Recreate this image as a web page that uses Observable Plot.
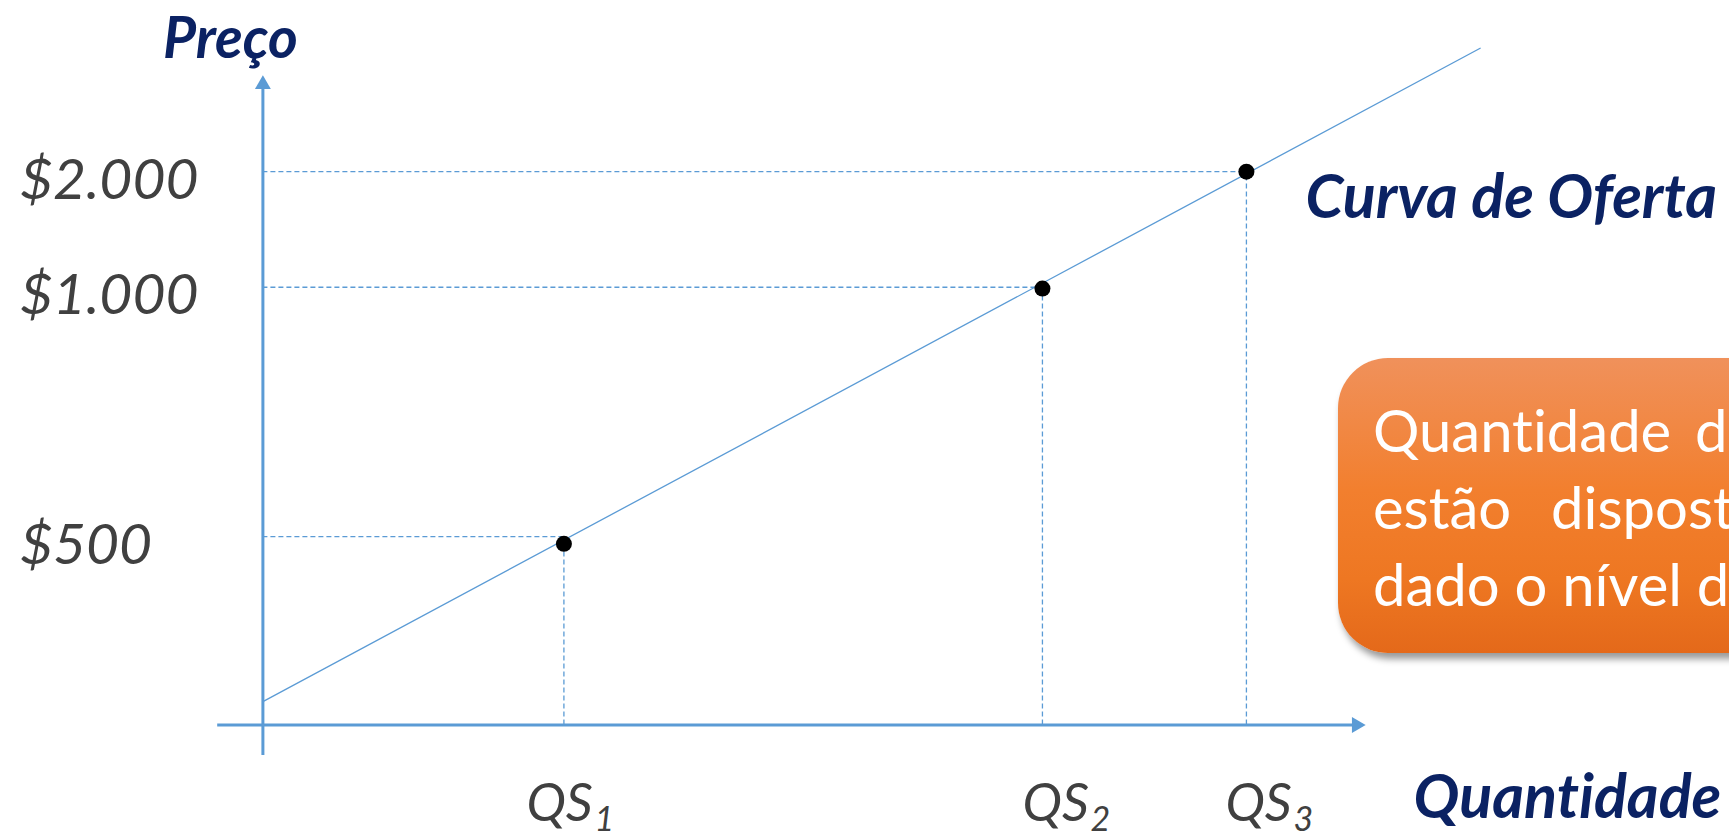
<!DOCTYPE html>
<html>
<head>
<meta charset="utf-8">
<script src="https://cdn.jsdelivr.net/npm/d3@7"></script>
<script src="https://cdn.jsdelivr.net/npm/@observablehq/plot@0.6"></script>
<style>
  html, body { margin: 0; padding: 0; background: #ffffff; overflow: hidden; }
  body { width: 1729px; height: 840px; position: relative; }
  #chart { position: absolute; left: 0; top: 0; }
  svg text { font-variant-ligatures: none; }
  #note {
    position: absolute; left: 1338px; top: 358px; width: 620px; height: 295px;
    border-radius: 50px;
    background: linear-gradient(180deg, #F0915B 0%, #F27F2E 45%, #EE7722 75%, #E4691A 100%);
    box-shadow: 3px 6px 7px rgba(0,0,0,0.40);
    font-family: Lato, "Open Sans", sans-serif; color: #ffffff; font-size: 58px;
    font-variant-ligatures: none;
    box-sizing: border-box; padding: 33px 0 0 35px; line-height: 77px; white-space: nowrap;
  }
  #note .l1 { word-spacing: 9px; }
  #note .l2 { word-spacing: 25px; }
</style>
</head>
<body>
<div id="chart"></div>
<div id="note"><div class="l1">Quantidade de</div><div class="l2">estão dispostos</div><div class="l3">dado o nível de</div></div>
<script>
// ---- data (diagram units: quantity 0..100 on x, price 0..100 on y) ----
const qsSubscripts = ["1", "2", "3"];
const quantities = [27.3, 70.7, 89.2];        // QS1, QS2, QS3
const prices = [27.9, 67.2, 85.2];            // supply points
const priceTicks = [29.0, 67.4, 85.2];        // where guides meet the price axis
const priceLabels = ["$500", "$1.000", "$2.000"];
const qsLabelAt = [23.9, 68.9, 87.3];         // start of each "QS" label
const supplyQ = [0, 110.4];
const supplyP = [3.6, 104.2];
const xAxisExtent = [-4.1, 99.0];
const yAxisExtent = [-4.7, 98.0];
const axisTip = 100;

const points = quantities.map((q, i) => ({q, p: prices[i], tick: priceTicks[i], label: priceLabels[i], sub: qsSubscripts[i], at: qsLabelAt[i]}));
const supply = supplyQ.map((q, i) => ({q, p: supplyP[i]}));

const blue = "#5B9BD5";
const navy = "#0B2263";
const grey = "#404040";
const font = "Lato, 'Open Sans', sans-serif";

const chart = Plot.plot({
  width: 1729, height: 840,
  marginTop: 0, marginRight: 0, marginBottom: 0, marginLeft: 0,
  x: {domain: [0, 100], range: [262.4, 1365], axis: null},
  y: {domain: [0, 100], range: [724.5, 75], axis: null},
  style: {background: "transparent", fontFamily: font, overflow: "visible"},
  marks: [
    // dashed guides
    Plot.ruleY(points, {y: "tick", x1: 0, x2: "q", stroke: blue, strokeWidth: 1.3, strokeDasharray: "5,3"}),
    Plot.ruleX(points, {x: "q", y1: 0, y2: "p", stroke: blue, strokeWidth: 1.3, strokeDasharray: "5,3"}),
    // axes
    Plot.ruleX([0], {y1: yAxisExtent[0], y2: yAxisExtent[1], stroke: blue, strokeWidth: 3}),
    Plot.ruleY([0], {x1: xAxisExtent[0], x2: xAxisExtent[1], stroke: blue, strokeWidth: 3}),
    Plot.dot([0], {x: 0, y: axisTip, symbol: "triangle", r: 5.9, fill: blue, stroke: null, dy: 9}),
    Plot.dot([0], {x: axisTip, y: 0, symbol: "triangle", r: 5.9, fill: blue, stroke: null, rotate: 90, dx: -9}),
    // supply curve
    Plot.line(supply, {x: "q", y: "p", stroke: blue, strokeWidth: 1.3}),
    // points
    Plot.dot(points, {x: "q", y: "p", r: 8, fill: "black", stroke: null}),
    // price labels (left aligned)
    Plot.text(points, {x: 0, y: "tick", text: "label", textAnchor: "start", dx: -243, dy: 9,
      fontSize: 57, fontStyle: "italic", fill: grey, fontFamily: font}),
    // quantity labels
    Plot.text(points, {x: "at", y: 0, text: () => "QS", textAnchor: "start", dy: 79,
      fontSize: 53, fontStyle: "italic", fill: grey, fontFamily: font}),
    Plot.text(points, {x: "at", y: 0, text: "sub", textAnchor: "start", dx: 68, dy: 95,
      fontSize: 34, fontStyle: "italic", fill: grey, fontFamily: font}),
    // axis titles
    Plot.text(["Preço"], {x: 0, y: axisTip, text: d => d, textAnchor: "end", dx: 35, dy: -36,
      fontSize: 57, fontWeight: "bold", fontStyle: "italic", fill: navy, fontFamily: font}),
    Plot.text(["Quantidade"], {x: axisTip, y: 0, text: d => d, textAnchor: "start", dx: 48, dy: 73,
      fontSize: 61, fontWeight: "bold", fontStyle: "italic", fill: navy, fontFamily: font}),
    Plot.text(["Curva de Oferta"], {x: quantities[2], y: prices[2], text: d => d, textAnchor: "start", dx: 59, dy: 27,
      fontSize: 61, fontWeight: "bold", fontStyle: "italic", fill: navy, fontFamily: font})
  ]
});
document.getElementById("chart").appendChild(chart);
</script>
</body>
</html>
